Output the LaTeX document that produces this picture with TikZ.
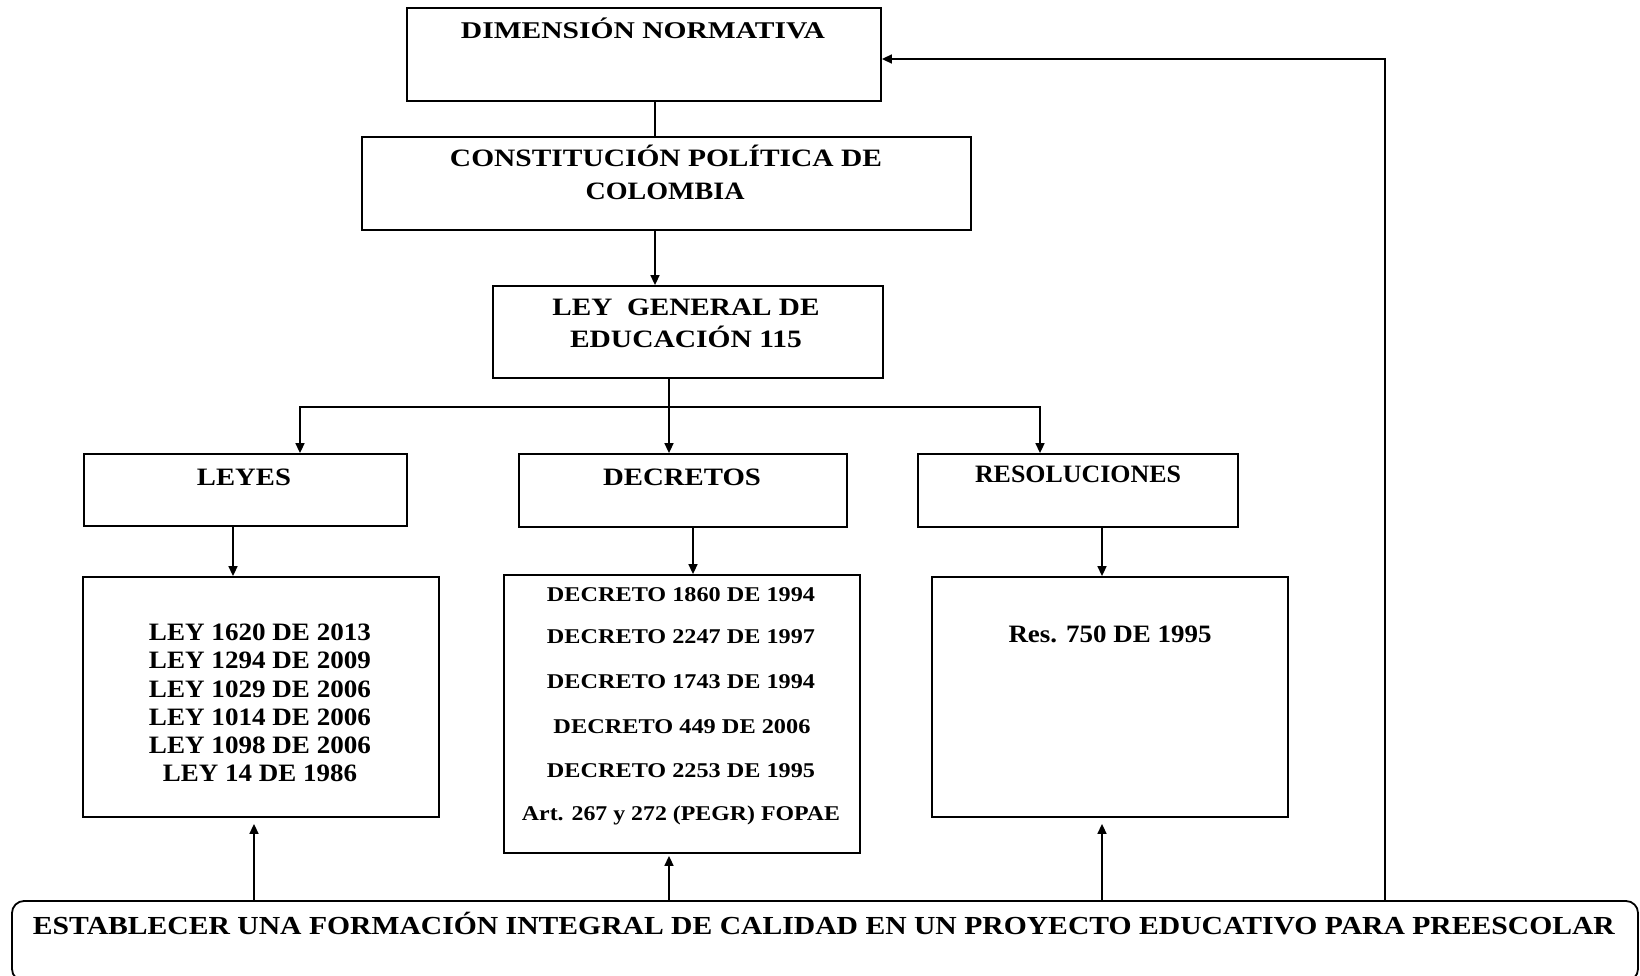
\documentclass[tikz,border=0pt]{standalone}
\usepackage{fontspec}
\setmainfont{Liberation Serif}
\usetikzlibrary{arrows.meta}
\newcommand\hfit[2]{\resizebox{#1pt}{\height}{#2}}
\begin{document}
\begin{tikzpicture}[x=1pt,y=-1pt,
  box/.style={draw=black, line width=1.8pt, inner sep=0pt, rectangle},
  lbl/.style={anchor=base, inner sep=0pt},
  ta/.style={lbl, font=\fontsize{24}{28}\selectfont\bfseries},
  tb/.style={lbl, font=\fontsize{25}{29}\selectfont\bfseries},
  tc/.style={lbl, font=\fontsize{21}{25}\selectfont\bfseries},
  td/.style={lbl, font=\fontsize{26}{30}\selectfont\bfseries},
  link/.style={line width=1.6pt, draw=black},
  arr/.style={link, -{Triangle[length=10pt,width=9pt]}}]
\fill[white, use as bounding box] (0,0) rectangle (1640,976);

% boxes
\node[box, minimum width=474pt, minimum height=93pt] (dim) at (644,54.5) {};
\node[box, minimum width=609pt, minimum height=93pt] (con) at (666.5,183.5) {};
\node[box, minimum width=390pt, minimum height=92pt] (lgen) at (688,332) {};
\node[box, minimum width=323pt, minimum height=72pt] (leyes) at (245.5,490) {};
\node[box, minimum width=328pt, minimum height=73pt] (dec) at (683,490.5) {};
\node[box, minimum width=320pt, minimum height=73pt] (res) at (1078,490.5) {};
\node[box, minimum width=356pt, minimum height=240pt] (leylist) at (261,697) {};
\node[box, minimum width=356pt, minimum height=278pt] (declist) at (682,714) {};
\node[box, minimum width=356pt, minimum height=240pt] (reslist) at (1110,697) {};
\begin{scope}
\clip (0,0) rectangle (1640,976);
\node[box, rounded corners=12pt, minimum width=1626pt, minimum height=80pt] (bot) at (825,941) {};
\end{scope}

% texts
\node[ta] (tdim) at (643,39) {\hfit{364}{DIMENSIÓN NORMATIVA}};
\node[tb] (tcon1) at (666,167) {\hfit{432}{CONSTITUCIÓN POLÍTICA DE}};
\node[tb] (tcon2) at (665,200) {\hfit{159}{COLOMBIA}};
\node[tb] (tlg1) at (686,315) {\hfit{267}{LEY\ \ GENERAL DE}};
\node[tb] (tlg2) at (686,347) {\hfit{232}{EDUCACIÓN 115}};
\node[tb] (tleyes) at (244,485) {\hfit{94}{LEYES}};
\node[tb] (tdec) at (682,485) {\hfit{158}{DECRETOS}};
\node[tb] (tres) at (1078,482) {\hfit{206}{RESOLUCIONES}};

\node[tb] (l1) at (260,640) {\hfit{222}{LEY 1620 DE 2013}};
\node[tb] (l2) at (260,668) {\hfit{222}{LEY 1294 DE 2009}};
\node[tb] (l3) at (260,697) {\hfit{222}{LEY 1029 DE 2006}};
\node[tb] (l4) at (260,725) {\hfit{222}{LEY 1014 DE 2006}};
\node[tb] (l5) at (260,753) {\hfit{222}{LEY 1098 DE 2006}};
\node[tb] (l6) at (260,781) {\hfit{194}{LEY 14 DE 1986}};

\node[tc] (d1) at (681,601) {\hfit{268}{DECRETO 1860 DE 1994}};
\node[tc] (d2) at (681,643) {\hfit{268}{DECRETO 2247 DE 1997}};
\node[tc] (d3) at (681,688) {\hfit{268}{DECRETO 1743 DE 1994}};
\node[tc] (d4) at (682,733) {\hfit{257}{DECRETO 449 DE 2006}};
\node[tc] (d5) at (681,777) {\hfit{268}{DECRETO 2253 DE 1995}};
\node[tc] (d6) at (681,820) {\hfit{318}{Art. 267 y 272 (PEGR) FOPAE}};

\node[tb] (r1) at (1110,642) {\hfit{203}{Res. 750 DE 1995}};

\node[td] (tbot) at (824,934) {\hfit{1582}{ESTABLECER UNA FORMACIÓN INTEGRAL DE CALIDAD EN UN PROYECTO EDUCATIVO PARA PREESCOLAR}};

% helper coordinates
\coordinate (xa) at (655,0);
\coordinate (hub) at (669,407);
\coordinate (xl) at (300,0);
\coordinate (xr) at (1040,0);
\coordinate (xly) at (233,0);
\coordinate (xde) at (693,0);
\coordinate (xre) at (1102,0);
\coordinate (ub1) at (254,0);
\coordinate (ub2) at (669,0);
\coordinate (ub3) at (1102,0);
\coordinate (rt) at (1385,59);

% connectors
\draw[link] (dim.south -| xa) -- (con.north -| xa);
\draw[arr] (con.south -| xa) -- (lgen.north -| xa);
\draw[link] (lgen.south -| hub) -- (hub);
\draw[arr] (hub) -| (leyes.north -| xl);
\draw[arr] (hub) -| (res.north -| xr);
\draw[arr] (hub) -- (dec.north -| hub);
\draw[arr] (leyes.south -| xly) -- (leylist.north -| xly);
\draw[arr] (dec.south -| xde) -- (declist.north -| xde);
\draw[arr] (res.south -| xre) -- (reslist.north -| xre);
\draw[arr, shorten >=6pt] (bot.north -| ub1) -- (leylist.south -| ub1);
\draw[arr, shorten >=2pt] (bot.north -| ub2) -- (declist.south -| ub2);
\draw[arr, shorten >=6pt] (bot.north -| ub3) -- (reslist.south -| ub3);
\draw[arr] (bot.north -| rt) -- (rt) -- (dim.east |- rt);
\end{tikzpicture}
\end{document}
